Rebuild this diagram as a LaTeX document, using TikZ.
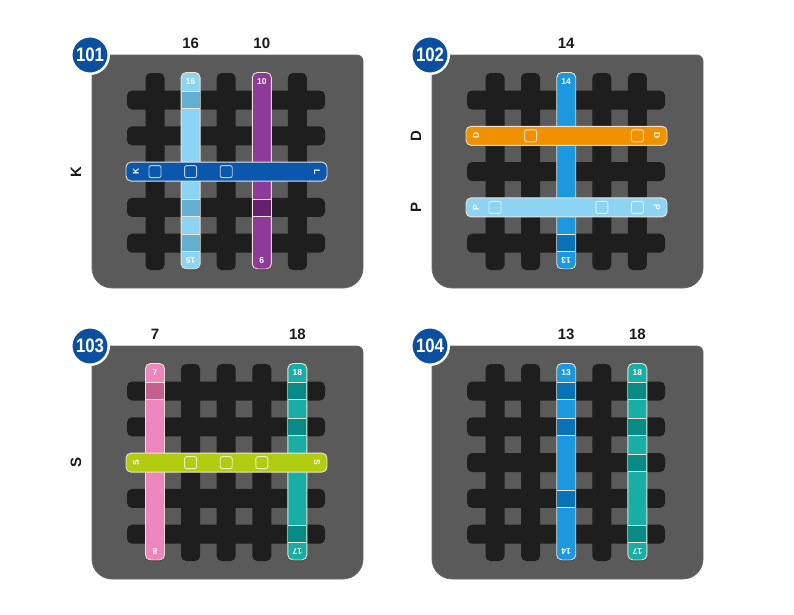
\documentclass[tikz,border=0pt]{standalone}
\usepackage{fontspec}
\setmainfont{Liberation Sans}
\definecolor{panelgray}{HTML}{5A5A5A}
\definecolor{paneledge}{HTML}{6A6A6A}
\definecolor{gridblack}{HTML}{1E1E1E}
\definecolor{badgeblue}{HTML}{0D4F9F}
\definecolor{stripedge}{HTML}{EFE4D2}
\definecolor{labelblack}{HTML}{1A1A1A}
\definecolor{kblue}{HTML}{0B57AD}
\definecolor{lblue}{HTML}{8DD3F3}
\definecolor{lbluedark}{HTML}{63AFD3}
\definecolor{purp}{HTML}{8E3A98}
\definecolor{purpdark}{HTML}{662070}
\definecolor{orng}{HTML}{F29100}
\definecolor{mblue}{HTML}{1B98DF}
\definecolor{mbluedark}{HTML}{0A73B8}
\definecolor{pink}{HTML}{EE86BD}
\definecolor{pinkdark}{HTML}{C4608F}
\definecolor{teal}{HTML}{18ADA5}
\definecolor{tealdark}{HTML}{0A8A84}
\definecolor{lime}{HTML}{B2CC12}
\tikzset{
  gridbar/.style={fill=gridblack, rounded corners=5pt},
  stripbox/.style={draw=stripedge, line width=0.9pt, rounded corners=5pt},
  cellline/.style={draw=stripedge, line width=0.7pt},
  sqbox/.style={draw=white, draw opacity=0.75, line width=0.9pt, rounded corners=2pt},
  inlabel/.style={text=white, font=\fontsize{8.5}{8.5}\selectfont\bfseries, inner sep=0pt},
  outlabel/.style={text=labelblack, font=\fontsize{15}{15}\selectfont\bfseries, inner sep=0pt},
  badge/.style={circle, fill=badgeblue, draw=white, line width=2.5pt, minimum size=37.5pt, inner sep=0pt, text=white, font=\fontsize{19.5}{19.5}\selectfont\bfseries},
}
% panel background, grid and badge
\newcommand\panelbg[1]{%
  \filldraw[fill=panelgray, draw=paneledge, line width=0.8pt] (\ox,\oy) -- ++(265,0) arc[start angle=-90,end angle=0,radius=6]
     -- ++(0,207) arc[start angle=0,end angle=90,radius=20]
     -- ++(-231,0) arc[start angle=90,end angle=180,radius=20] -- cycle;
  \foreach \i in {0,...,4} {
    \fill[gridbar] ({\ox+63+35.6*\i-9.5},{\oy+18}) rectangle ++(19,197);
  }
  \foreach \i in {0,...,4} {
    \fill[gridbar] ({\ox+35},{\oy+45+35.8*\i-9.5}) rectangle ++(198,19);
  }
  \node[badge] (badge#1) at (\ox-2,\oy) {\scalebox{0.86}[1]{#1}};
}
% vertical strip: col, fill, dark fill, dark rows, top label, bottom label
\newcommand\vstrip[6]{%
  \pgfmathsetmacro\cx{\ox+63+35.6*#1}
  \draw[stripbox, fill=#2] (\cx-9.5,\oy+17.5) rectangle (\cx+9.5,\oy+214);
  \foreach \r in {#4} {
    \pgfmathsetmacro\ry{\oy+45+35.8*\r}
    \fill[#3] (\cx-9,\ry-8.5) rectangle (\cx+9,\ry+8.5);
    \draw[cellline] (\cx-9,\ry-8.5) -- (\cx+9,\ry-8.5) (\cx-9,\ry+8.5) -- (\cx+9,\ry+8.5);
  }
  \node[inlabel] (v\pid-#5-top) at (\cx,\oy+26.5) {#5};
  \node[inlabel, rotate=180] (v\pid-#5-bot) at (\cx,\oy+205) {#6};
  \node[outlabel] (t\pid-#5) at (\cx,\oy-12) {#5};
}
% horizontal strip: row, fill, square columns, left label, right label
\newcommand\hstrip[5]{%
  \pgfmathsetmacro\ry{\oy+45+35.8*#1}
  \draw[stripbox, fill=#2] (\ox+34,\ry-9.5) rectangle (\ox+235,\ry+9.5);
  \foreach \c in {#3} {
    \pgfmathsetmacro\sx{\ox+63+35.6*\c}
    \draw[sqbox] (\sx-6,\ry-6) rectangle (\sx+6,\ry+6);
  }
  \node[inlabel, rotate=90] (h\pid-#4-l) at (\ox+44,\ry) {#4};
  \node[inlabel, rotate=-90] (h\pid-#4-r) at (\ox+225,\ry) {#5};
  \node[outlabel, rotate=90] (s\pid-#4) at (\ox-16,\ry) {#4};
}
\begin{document}
\begin{tikzpicture}[x=1pt,y=-1pt]
\useasboundingbox[fill=white] (0,0) rectangle (794,614);
% ---- 101
\def\ox{92}\def\oy{55}\def\pid{101}
\panelbg{101}
\vstrip{1}{lblue}{lbluedark}{0,3,4}{16}{15}
\vstrip{3}{purp}{purpdark}{3}{10}{9}
\hstrip{2}{kblue}{0,1,2}{K}{L}
% ---- 102
\def\ox{432}\def\oy{55}\def\pid{102}
\panelbg{102}
\vstrip{2}{mblue}{mbluedark}{4}{14}{13}
\hstrip{1}{orng}{1,4}{D}{D}
\hstrip{3}{lblue}{0,3,4}{P}{P}
% ---- 103
\def\ox{92}\def\oy{346}\def\pid{103}
\panelbg{103}
\vstrip{0}{pink}{pinkdark}{0}{7}{8}
\vstrip{4}{teal}{tealdark}{0,1,4}{18}{17}
\hstrip{2}{lime}{1,2,3}{S}{S}
% ---- 104
\def\ox{432}\def\oy{346}\def\pid{104}
\panelbg{104}
\vstrip{2}{mblue}{mbluedark}{0,1,3}{13}{14}
\vstrip{4}{teal}{tealdark}{0,1,2,4}{18}{17}
\end{tikzpicture}
\end{document}
